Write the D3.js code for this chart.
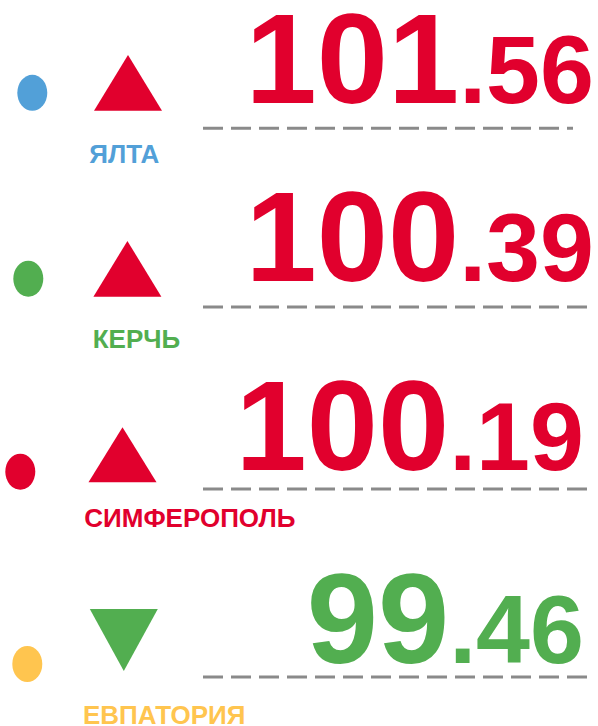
<!DOCTYPE html>
<html lang="ru">
<head>
<meta charset="UTF-8">
<title>Индекс цен по городам</title>
<style>
body { margin: 0; background: #fff; }
.city { font: bold 26px "Liberation Sans", Arial, sans-serif; }
.value { font-family: "Liberation Sans", Arial, sans-serif; font-weight: bold; }
.rule { fill: none; stroke: #8a8a8a; stroke-width: 3px; stroke-dasharray: 20 8; }
</style>
</head>
<body>
<div class="chart"></div>
<script src="https://cdnjs.cloudflare.com/ajax/libs/d3/7.8.5/d3.min.js"></script>
<script>

// data
let cities = ["ЯЛТА", "КЕРЧЬ", "СИМФЕРОПОЛЬ", "ЕВПАТОРИЯ"];
let values = [101.56, 100.39, 100.19, 99.46];
let base = 100;

// styles
let cityColors = ["#52a0d8", "#52ae50", "#e1002d", "#ffc54f"];
let upColor = "#e1002d";
let downColor = "#52ae50";

// layout (the original is hand placed, so rows are not evenly spaced)
let width = 598, height = 726;
let rowBaseline = d3.scaleOrdinal().domain(cities).range([102.7, 281, 470, 662.7]);
let valueRight = d3.scaleOrdinal().domain(cities).range([594, 594, 584, 584]);
let dotX = d3.scaleOrdinal().domain(cities).range([32.3, 28.3, 20.3, 27.3]);
let dotDy = d3.scaleOrdinal().domain(cities).range([-9.9, -2.3, 1.7, 1.3]);
let triX = d3.scaleOrdinal().domain(cities).range([128, 127.4, 122.5, 123.8]);
let triTop = d3.scaleOrdinal().domain(cities).range([-47.7, -40, -42.7, -53.7]);
let triBottom = d3.scaleOrdinal().domain(cities).range([8, 15.7, 12.3, 8.3]);
let ruleDy = d3.scaleOrdinal().domain(cities).range([25.6, 26, 19, 14.3]);
let ruleEnd = d3.scaleOrdinal().domain(cities).range([573, 590, 590, 590]);
let labelX = d3.scaleOrdinal().domain(cities).range([89.3, 92.7, 84.3, 83]);
let labelDy = d3.scaleOrdinal().domain(cities).range([60, 67.3, 56.5, 61.3]);

let rows = cities.map((c, i) => ({ city: c, value: values[i], color: cityColors[i] }));
let fmt = d3.format(".2f");
let trend = (d) => d.value >= base ? upColor : downColor;

let svg = d3.select(".chart").append("svg")
    .attr("width", width)
    .attr("height", height);

let row = svg.selectAll("g.row")
    .data(rows)
    .enter().append("g")
    .attr("class", "row")
    .attr("transform", (d) => "translate(0," + rowBaseline(d.city) + ")");

row.append("ellipse")
    .attr("cx", (d) => dotX(d.city))
    .attr("cy", (d) => dotDy(d.city))
    .attr("rx", 15)
    .attr("ry", 18)
    .style("fill", (d) => d.color);

let line = d3.line();
row.append("path")
    .attr("d", (d) => {
        let cx = triX(d.city), t = triTop(d.city), b = triBottom(d.city), hw = 34;
        if (d.value >= base) return line([[cx, t], [cx + hw, b], [cx - hw, b]]) + "Z";
        return line([[cx - hw, t], [cx + hw, t], [cx, b]]) + "Z";
    })
    .style("fill", trend);

row.append("line")
    .attr("class", "rule")
    .attr("x1", 203)
    .attr("x2", (d) => ruleEnd(d.city))
    .attr("y1", (d) => ruleDy(d.city))
    .attr("y2", (d) => ruleDy(d.city));

let val = row.append("text")
    .attr("class", "value")
    .attr("x", (d) => valueRight(d.city))
    .attr("y", 0)
    .attr("text-anchor", "end")
    .style("fill", trend);
val.append("tspan")
    .style("font-size", "128px")
    .text((d) => fmt(d.value).split(".")[0]);
val.append("tspan")
    .style("font-size", "97px")
    .text((d) => "." + fmt(d.value).split(".")[1]);

row.append("text")
    .attr("class", "city")
    .attr("x", (d) => labelX(d.city))
    .attr("y", (d) => labelDy(d.city))
    .style("fill", (d) => d.color)
    .text((d) => d.city);

</script>
</body>
</html>
